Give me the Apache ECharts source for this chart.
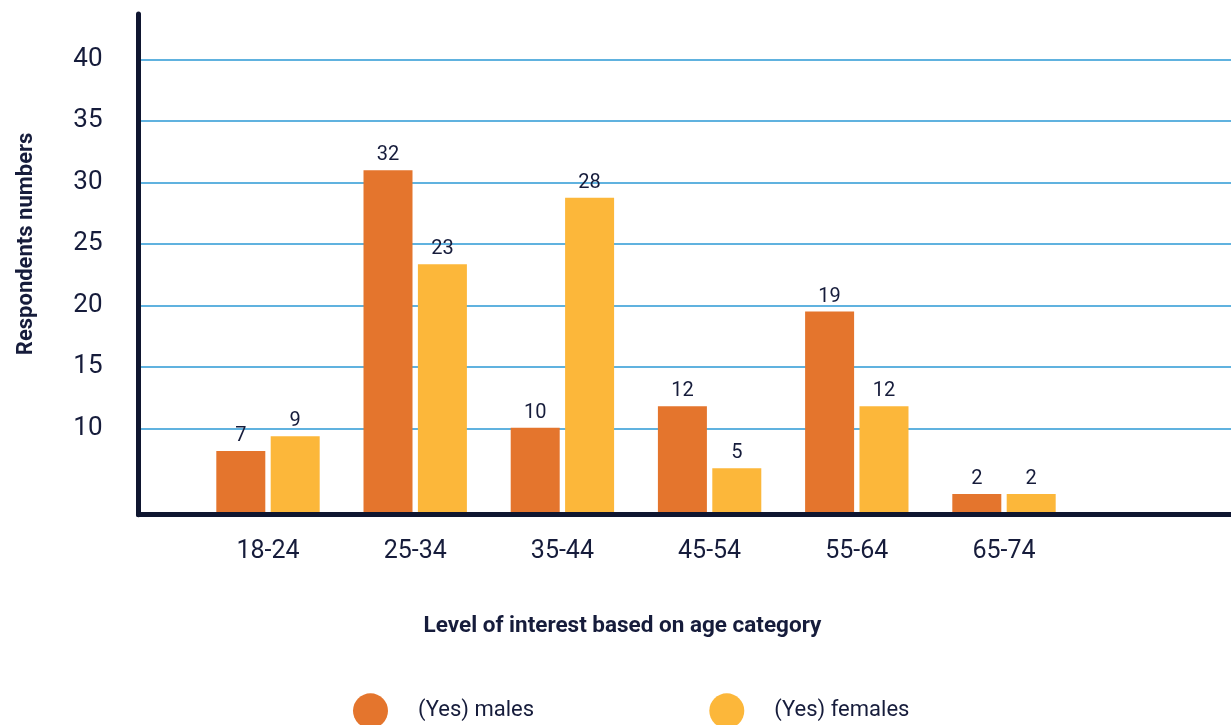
<!DOCTYPE html>
<html><head><meta charset="utf-8">
<script src="https://cdn.jsdelivr.net/npm/echarts@6/dist/echarts.min.js"></script>
<style>html,body{margin:0;padding:0;background:#fff}#c{width:1231px;height:725px}</style>
</head><body><div id="c"></div>
<script>
// ---- data ----
const categories = ['18-24', '25-34', '35-44', '45-54', '55-64', '65-74'];
const seriesNames = ['(Yes) males', '(Yes) females'];
// bar heights as drawn in the picture (axis units)
const malesBarHeights = [8.15, 31.0, 10.05, 11.8, 19.5, 4.65];
const femalesBarHeights = [9.35, 23.35, 28.75, 6.75, 11.8, 4.65];
// value labels printed above the bars
const malesLabels = [7, 32, 10, 12, 19, 2];
const femalesLabels = [9, 23, 28, 5, 12, 2];
// y axis tick labels range
const yTickMin = 10, yTickMax = 40, yTickStep = 5;
const yAxisTitle = 'Respondents numbers';
const xAxisTitle = 'Level of interest based on age category';

const FONT = "Roboto, 'Noto Sans', sans-serif";
const INK = '#161c3b';
const AXIS = '#0f1630';
const GRIDC = '#2b98d5';
const COLORS = ['#E4752D', '#FCB73A'];

// pixel geometry of the plot
const axisY = 514.7, topY = 14, y10 = 428.3, y40 = 59.5;
const pxPerUnit = (y10 - y40) / (yTickMax - yTickMin);
const barMin = yTickMin - (axisY - y10) / pxPerUnit;
const barMax = yTickMax + (y40 - topY) / pxPerUnit;

const chart = echarts.init(document.getElementById('c'), null, {renderer: 'canvas'});

function barSeries(i, values, labels) {
  return {
    type: 'bar', name: seriesNames[i], xAxisIndex: 0, yAxisIndex: 0,
    data: values, barWidth: 49, barGap: '11%',
    itemStyle: {color: COLORS[i]},
    label: {show: true, position: 'top', distance: 5, fontSize: 20, color: INK, fontFamily: FONT,
      formatter: p => String(labels[p.dataIndex])}
  };
}

chart.setOption({
  animation: false,
  backgroundColor: '#fff',
  grid: [
    {left: 194.4, right: 153.4, top: topY, bottom: 725 - axisY},
    {left: 138.5, right: 0, top: y40, bottom: 725 - y10},
    {left: 138.5, right: 0, top: topY, bottom: 725 - axisY}
  ],
  xAxis: [
    {gridIndex: 0, type: 'category', data: categories,
     axisLine: {show: false}, axisTick: {show: false},
     axisLabel: {fontSize: 25, color: INK, margin: 24.5, fontFamily: FONT},
     name: xAxisTitle, nameLocation: 'middle', nameGap: 100.5,
     nameTextStyle: {fontSize: 22.5, fontWeight: 'bold', color: INK, fontFamily: FONT, padding: [0, 27, 0, 0]}},
    {gridIndex: 1, type: 'value', show: false, min: 0, max: 1},
    {gridIndex: 2, type: 'value', min: 0, max: 1, z: 10,
     axisLine: {show: true, onZero: false, lineStyle: {color: AXIS, width: 5}},
     axisTick: {show: false}, axisLabel: {show: false}, splitLine: {show: false}}
  ],
  yAxis: [
    {gridIndex: 0, type: 'value', min: barMin, max: barMax, show: false},
    {gridIndex: 1, type: 'value', min: yTickMin, max: yTickMax, interval: yTickStep,
     axisLine: {show: false}, axisTick: {show: false},
     axisLabel: {fontSize: 26, color: INK, margin: 36, fontFamily: FONT},
     splitLine: {show: true, lineStyle: {color: GRIDC, width: 1.5}},
     name: yAxisTitle, nameLocation: 'middle', nameGap: 101,
     nameTextStyle: {fontSize: 22, fontWeight: 'bold', color: INK, fontFamily: FONT}},
    {gridIndex: 2, type: 'value', min: 0, max: 1, z: 10,
     axisLine: {show: true, onZero: false, lineStyle: {color: AXIS, width: 5}},
     axisTick: {show: false}, axisLabel: {show: false}, splitLine: {show: false}}
  ],
  legend: [
    {data: [seriesNames[0]], left: 353, top: 693.3, padding: 0, icon: 'circle', itemWidth: 35, itemHeight: 35,
     textStyle: {fontSize: 22, color: INK, fontFamily: FONT, padding: [0, 0, 0, 25]}},
    {data: [seriesNames[1]], left: 709.3, top: 693.3, padding: 0, icon: 'circle', itemWidth: 35, itemHeight: 35,
     textStyle: {fontSize: 22, color: INK, fontFamily: FONT, padding: [0, 0, 0, 25]}}
  ],
  series: [
    barSeries(0, malesBarHeights, malesLabels),
    barSeries(1, femalesBarHeights, femalesLabels)
  ]
});
</script></body></html>
